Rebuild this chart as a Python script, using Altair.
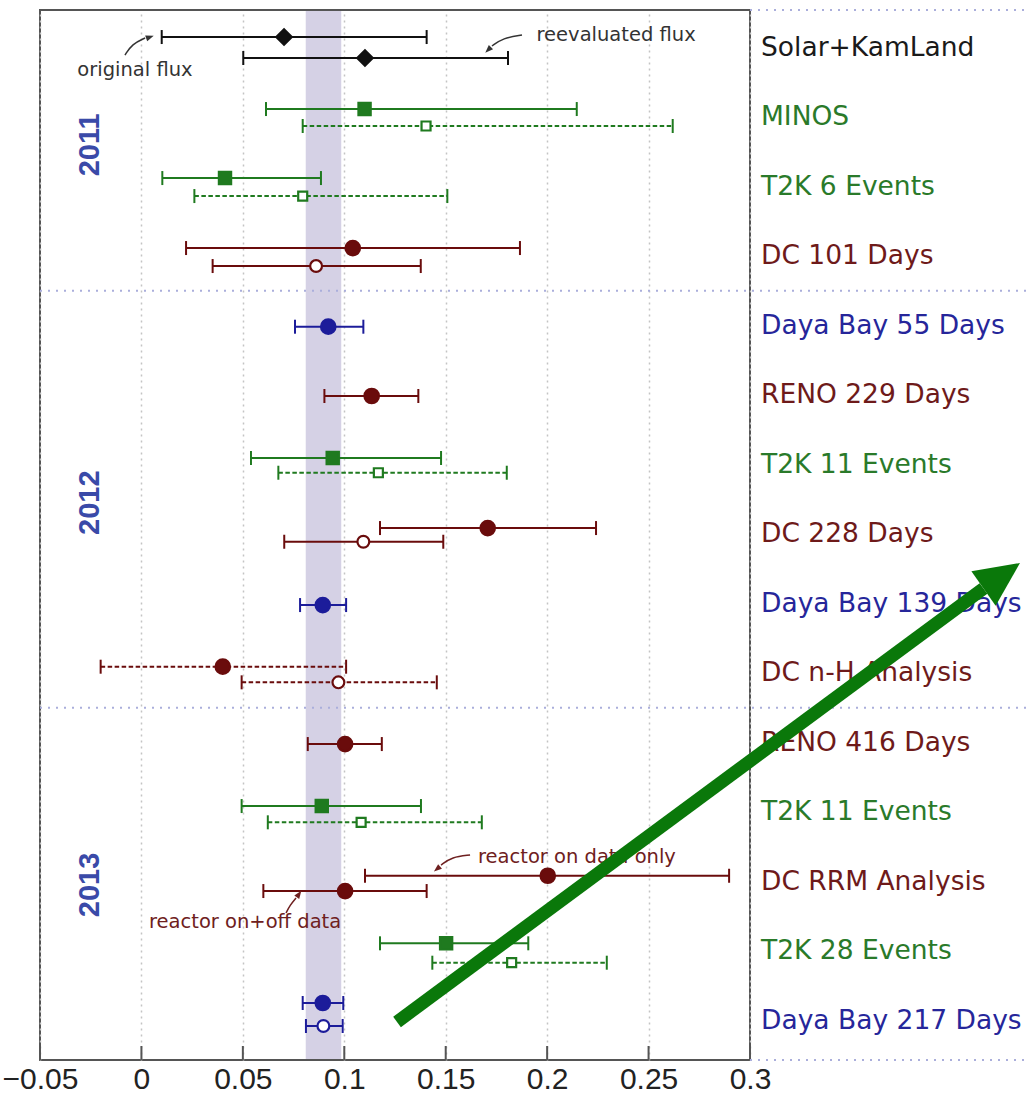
import altair as alt
import pandas as pd

# ---------------- data ----------------
exp_names = ["Solar+KamLand", "MINOS", "T2K 6 Events", "DC 101 Days",
             "Daya Bay 55 Days", "RENO 229 Days", "T2K 11 Events", "DC 228 Days",
             "Daya Bay 139 Days", "DC n-H Analysis", "RENO 416 Days", "T2K 11 Events",
             "DC RRM Analysis", "T2K 28 Events", "Daya Bay 217 Days"]
exp_family = ["solar", "acc", "acc", "dc", "dyb", "dc", "acc", "dc",
              "dyb", "dc", "dc", "acc", "dc", "acc", "dyb"]

year_labels = ["2011", "2012", "2013"]
year_slots = [1.4, 6.55, 12.05]
year_x = [-0.0255, -0.0255, -0.0255]

sep_slots = [-0.54, 3.5, 9.5, 14.568]
sep_start = [0.3, -0.05, -0.05, 0.3]
x_tick_values = [-0.05, 0, 0.05, 0.1, 0.15, 0.2, 0.25, 0.3]
band_lo = [0.081]
band_hi = [0.0985]

pt_row = [0, 0, 1, 1, 2, 2, 3, 3, 4, 5, 6, 6, 7, 7, 8, 9, 9, 10, 11, 11, 12, 12, 13, 13, 14, 14]
pt_slot = [-0.151, 0.151, 0.885, 1.129, 1.878, 2.137, 2.885, 3.144, 4.017, 5.014,
           5.906, 6.118, 6.914, 7.111, 8.022, 8.909, 9.134, 10.022, 10.914, 11.148,
           11.917, 12.137, 12.889, 13.168, 13.748, 14.079]
pt_val = [0.0703, 0.1102, 0.110, 0.1403, 0.0412, 0.0795, 0.1042, 0.0861, 0.0921, 0.1135,
          0.0943, 0.1168, 0.1707, 0.1094, 0.0894, 0.0401, 0.0971, 0.1004, 0.0889, 0.1083,
          0.2003, 0.1004, 0.1502, 0.1825, 0.0894, 0.0897]
pt_lo = [0.0100, 0.0502, 0.0614, 0.0795, 0.0103, 0.0261, 0.0220, 0.0351, 0.0757, 0.0902,
         0.0540, 0.0675, 0.1176, 0.0704, 0.0782, -0.0201, 0.0494, 0.0820, 0.0494, 0.0623,
         0.1102, 0.0601, 0.1176, 0.1434, 0.0795, 0.0811]
pt_hi = [0.1406, 0.1807, 0.2146, 0.2619, 0.0885, 0.1508, 0.1866, 0.1377, 0.1094, 0.1365,
         0.1477, 0.1801, 0.2241, 0.1488, 0.1009, 0.1009, 0.1456, 0.1185, 0.1378, 0.1678,
         0.2897, 0.1406, 0.1907, 0.2294, 0.0995, 0.0992]
pt_open = [False, False, False, True, False, True, False, True, False, False,
           False, True, False, True, False, False, True, False, False, True,
           False, False, False, True, False, True]
pt_dashed = [False, False, False, True, False, True, False, False, False, False,
             False, True, False, False, False, True, True, False, False, True,
             False, False, False, True, False, False]

ann_text = ["original flux", "reevaluated flux", "reactor on data only", "reactor on+off data"]
ann_family = ["solar", "solar", "dc", "dc"]
ann_x = [-0.0032, 0.2340, 0.2147, 0.0511]
ann_y = [0.324, -0.180, 11.647, 12.580]

# small annotation arrows: curve points (id, x, slot) and arrow heads
arr_id = [0, 0, 0, 1, 1, 1, 2, 2, 2, 3, 3, 3]
arr_x = [-0.0081, -0.0046, 0.0018, 0.1876, 0.1782, 0.1728, 0.1620, 0.1531, 0.1477, 0.0713, 0.0733, 0.0762]
arr_y = [0.108, -0.050, -0.137, -0.180, -0.137, -0.022, 11.619, 11.647, 11.763, 12.453, 12.338, 12.237]
head_x = [0.0042, 0.1709, 0.1457, 0.0777]
head_y = [-0.151, 0.036, 11.820, 12.180]
head_angle = [70, 225, 230, 35]
head_family = ["solar", "solar", "dc", "dc"]

# big green overlay arrow
big_x = [0.1260, 0.4151]
big_y = [14.02, 7.784]
big_head_x = [0.4241]
big_head_y = [7.60]
big_head_angle = [55]

# ---------------- styles ----------------
W, H = 710, 1050
fam_color = {"solar": "#111111", "acc": "#1f7a1f", "dc": "#6a0c0c", "dyb": "#1c1c9a"}
lab_color = {"solar": "#1a1a1a", "acc": "#2a7a2a", "dc": "#6e1a1a", "dyb": "#26269a"}
ann_color = {"solar": "#333333", "dc": "#6e2020"}
fam_shape = {"solar": "diamond", "acc": "square", "dc": "circle", "dyb": "circle"}
size_map = {("diamond", False): 240, ("square", False): 150, ("square", True): 81,
            ("circle", False): 210, ("circle", True): 140}

xs = alt.Scale(domain=[-0.05, 0.3], nice=False, zero=False)
ys = alt.Scale(domain=[-0.54, 14.568], nice=False, zero=False, reverse=True)
x_axis = alt.Axis(values=x_tick_values, format="~g", grid=True, gridDash=[2, 4],
                  gridColor="#c4c4c4", gridWidth=1.5, ticks=False, domain=False,
                  labelFont="Liberation Sans", labelFontSize=30, labelColor="#222222",
                  labelPadding=4, labelFlush=False, labelOverlap=False, title=None)


def X(field):
    return alt.X(field, scale=xs, axis=x_axis, title=None)


def Y(field):
    return alt.Y(field, scale=ys, axis=None, title=None)


pts = pd.DataFrame({"row": pt_row, "slot": pt_slot, "val": pt_val, "lo": pt_lo,
                    "hi": pt_hi, "open": pt_open, "dashed": pt_dashed})
pts["fam"] = [exp_family[r] for r in pts["row"]]
pts["color"] = pts["fam"].map(fam_color)
pts["shape"] = pts["fam"].map(fam_shape)
pts["fill"] = [("#ffffff" if o else c) for o, c in zip(pts["open"], pts["color"])]
pts["msize"] = [size_map[(s, o)] for s, o in zip(pts["shape"], pts["open"])]

labels = pd.DataFrame({"name": exp_names, "slot": list(range(len(exp_names))),
                       "color": [lab_color[f] for f in exp_family]})

band = alt.Chart(pd.DataFrame({"lo": band_lo, "hi": band_hi})).mark_rect(
    color="#d5d1e5").encode(
    x=X("lo:Q"), x2="hi:Q", y=alt.value(1), y2=alt.value(H - 1))

ticks = alt.Chart(pd.DataFrame({"t": x_tick_values})).mark_rule(
    color="#555555", strokeWidth=2).encode(
    x=X("t:Q"), y=alt.value(H - 14), y2=alt.value(H))

seps = alt.Chart(pd.DataFrame({"s": sep_slots, "x0": sep_start})).mark_rule(
    color="#aaaedb", strokeWidth=2, strokeDash=[2, 6]).encode(
    y=Y("s:Q"), x=X("x0:Q"), x2=alt.value(1029 - 40))

base_pts = alt.Chart(pts)
bars_solid = base_pts.transform_filter("!datum.dashed").mark_rule(strokeWidth=2).encode(
    x=X("lo:Q"), x2="hi:Q", y=Y("slot:Q"), color=alt.Color("color:N", scale=None))
bars_dashed = base_pts.transform_filter("datum.dashed").mark_rule(
    strokeWidth=2, strokeDash=[4.5, 2.5]).encode(
    x=X("lo:Q"), x2="hi:Q", y=Y("slot:Q"), color=alt.Color("color:N", scale=None))
caps = base_pts.transform_fold(["lo", "hi"], as_=["end", "ex"]).mark_tick(
    orient="vertical", size=14, thickness=2, opacity=1).encode(
    x=X("ex:Q"), y=Y("slot:Q"), color=alt.Color("color:N", scale=None))
marks = base_pts.mark_point(strokeWidth=2.2, opacity=1).encode(
    x=X("val:Q"), y=Y("slot:Q"),
    shape=alt.Shape("shape:N", scale=None), fill=alt.Fill("fill:N", scale=None),
    stroke=alt.Stroke("color:N", scale=None), size=alt.Size("msize:Q", scale=None))

row_text = alt.Chart(labels).mark_text(
    align="left", baseline="middle", font="DejaVu Sans", fontSize=26.5).encode(
    x=alt.value(721), y=Y("slot:Q"),
    text="name:N", color=alt.Color("color:N", scale=None))

years = alt.Chart(pd.DataFrame({"t": year_labels, "x": year_x, "y": year_slots})).mark_text(
    angle=270, align="center", baseline="middle", font="Liberation Sans",
    fontWeight="bold", fontSize=29, color="#3a4aa8").encode(
    x=X("x:Q"), y=Y("y:Q"), text="t:N")

ann_df = pd.DataFrame({"t": ann_text, "x": ann_x, "y": ann_y,
                       "color": [ann_color[f] for f in ann_family]})
ann = alt.Chart(ann_df).mark_text(
    align="center", baseline="middle", font="DejaVu Sans", fontSize=19.5).encode(
    x=X("x:Q"), y=Y("y:Q"), text="t:N", color=alt.Color("color:N", scale=None))

arr_df = pd.DataFrame({"id": arr_id, "x": arr_x, "y": arr_y,
                       "ord": list(range(len(arr_id)))})
arr_df["color"] = [ann_color[head_family[i]] for i in arr_df["id"]]
arr_lines = alt.Chart(arr_df).mark_line(strokeWidth=1.5, interpolate="basis").encode(
    x=X("x:Q"), y=Y("y:Q"), detail="id:N", order="ord:Q",
    color=alt.Color("color:N", scale=None))
heads_df = pd.DataFrame({"x": head_x, "y": head_y, "a": head_angle,
                         "color": [ann_color[f] for f in head_family]})
arr_heads = alt.Chart(heads_df).mark_point(
    shape="M0,-1L-0.75,1L0.75,1Z", filled=True, size=64, opacity=1).encode(
    x=X("x:Q"), y=Y("y:Q"),
    angle=alt.Angle("a:Q", scale=None), color=alt.Color("color:N", scale=None))

big_line = alt.Chart(pd.DataFrame({"x": big_x, "y": big_y})).mark_line(
    color="#0a780a", strokeWidth=13, strokeCap="butt").encode(
    x=X("x:Q"), y=Y("y:Q"))
big_head = alt.Chart(pd.DataFrame({"x": big_head_x, "y": big_head_y,
                                   "a": big_head_angle})).mark_point(
    shape="M0,-1L-0.95,1L0.95,1Z", filled=True, size=1980, opacity=1,
    color="#0a780a").encode(
    x=X("x:Q"), y=Y("y:Q"), angle=alt.Angle("a:Q", scale=None))

chart = alt.layer(
    band, ticks, seps, bars_solid, bars_dashed, caps, marks,
    row_text, years, ann, arr_lines, arr_heads, big_line, big_head
).properties(
    width=W, height=H,
    autosize=alt.AutoSizeParams(type="none"),
    padding={"left": 40, "top": 10, "right": 1029 - 40 - W, "bottom": 1096 - 10 - H},
    background="white",
).configure_view(stroke="#555555", strokeWidth=2)

chart.save("out.html", embed_options={"renderer": "svg", "actions": False})
